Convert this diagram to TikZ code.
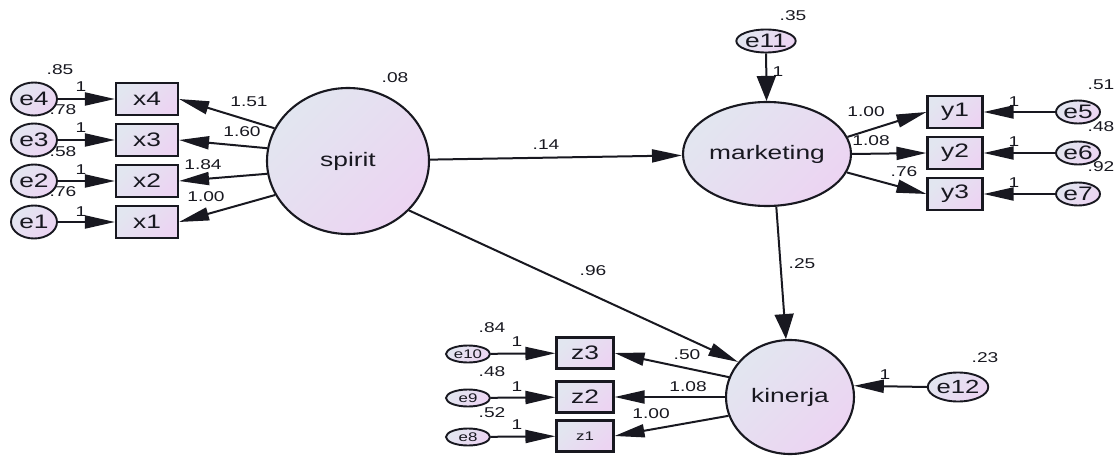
\documentclass[tikz,border=0pt]{standalone}
\usepackage{fontspec}
\setmainfont{Liberation Sans}[FakeStretch=1.35]
\usetikzlibrary{shapes.geometric,arrows.meta}
\definecolor{shtop}{RGB}{226,230,240}
\definecolor{shbot}{RGB}{236,212,242}
\definecolor{ink}{RGB}{24,24,32}
\tikzset{
  shadedfill/.style={top color=shtop,bottom color=shbot,shading angle=45},
  latent/.style={ellipse,draw=ink,line width=2.1pt,shadedfill,inner sep=0pt,
    font=\fontsize{19.5}{21}\selectfont,text=ink},
  obs/.style={rectangle,draw=ink,line width=2.1pt,shadedfill,inner sep=0pt,
    minimum width=62pt,minimum height=32pt,font=\fontsize{19.5}{21}\selectfont,text=ink},
  err/.style={ellipse,draw=ink,line width=1.9pt,shadedfill,inner sep=0pt,
    minimum width=46pt,minimum height=33pt,font=\fontsize{19.5}{21}\selectfont,text=ink},
  smallerr/.style={err,minimum width=44pt,minimum height=17pt,font=\fontsize{12.5}{13}\selectfont},
  lbl/.style={inner sep=0pt,font=\fontsize{14.2}{15}\selectfont,text=ink},
  conn/.style={draw=ink,line width=2pt,-{Triangle[length=30pt,width=13pt]}},
  vconn/.style={draw=ink,line width=2pt,-{Triangle[length=25pt,width=19pt]}}
}
\begin{document}
\begin{tikzpicture}[x=1pt,y=-1pt]
\useasboundingbox (0,0) rectangle (1118,457);

% latent variables
\node[latent,minimum width=162pt,minimum height=146pt] (spirit) at (348,161) {spirit};
\node[latent,minimum width=168pt,minimum height=104pt] (marketing) at (767,154) {marketing};
\node[latent,minimum width=128pt,minimum height=114pt] (kinerja) at (790,397) {kinerja};

% spirit indicators
\node[obs] (x4) at (147,99) {x4};
\node[obs] (x3) at (147,140) {x3};
\node[obs] (x2) at (147,181) {x2};
\node[obs] (x1) at (147,222) {x1};
\node[err] (e4) at (34,99) {e4};
\node[err] (e3) at (34,140) {e3};
\node[err] (e2) at (34,181) {e2};
\node[err] (e1) at (34,222) {e1};

% marketing indicators
\node[obs,minimum width=55pt] (y1) at (955,112) {y1};
\node[obs,minimum width=55pt] (y2) at (955,153) {y2};
\node[obs,minimum width=55pt] (y3) at (955,194) {y3};
\node[err,minimum width=44pt,minimum height=23pt] (e5) at (1078,112) {e5};
\node[err,minimum width=44pt,minimum height=23pt] (e6) at (1078,153) {e6};
\node[err,minimum width=44pt,minimum height=23pt] (e7) at (1078,194) {e7};
\node[err,minimum width=59pt,minimum height=23pt] (e11) at (766,41) {e11};

% kinerja indicators
\node[obs,minimum width=57pt,minimum height=31pt] (z3) at (585,353) {z3};
\node[obs,minimum width=57pt,minimum height=31pt] (z2) at (585,397) {z2};
\node[obs,minimum width=57pt,minimum height=31pt,font=\fontsize{12.5}{13}\selectfont] (z1) at (585,436) {z1};
\node[smallerr] (e10) at (468,354) {e10};
\node[smallerr] (e9) at (468,398) {e9};
\node[smallerr] (e8) at (468,437) {e8};
\node[err,minimum width=58pt,minimum height=29pt,font=\fontsize{19}{20}\selectfont] (e12) at (958,387) {e12};

% error paths
\draw[conn] (e4) -- (x4);
\draw[conn] (e3) -- (x3);
\draw[conn] (e2) -- (x2);
\draw[conn] (e1) -- (x1);
\draw[conn] (e5) -- (y1);
\draw[conn] (e6) -- (y2);
\draw[conn] (e7) -- (y3);
\draw[conn] (e10) -- (z3);
\draw[conn] (e9) -- (z2);
\draw[conn] (e8) -- (z1);
\draw[vconn] (e11) -- (marketing);
\draw[conn] (e12.west) -- (kinerja.10);

% loadings
\draw[conn] (spirit.156) -- (x4.east);
\draw[conn] (spirit.171) -- (x3.east);
\draw[conn] (spirit.189) -- (x2.east);
\draw[conn] (spirit.205) -- (x1.east);
\draw[conn] (marketing.12) -- (y1.west);
\draw[conn] (marketing.0) -- (y2.west);
\draw[conn] (marketing.347) -- (y3.west);
\draw[conn] (kinerja.162) -- (z3.east);
\draw[conn] (kinerja.180) -- (z2.east);
\draw[conn] (kinerja.197) -- (z1.east);

% structural paths
\draw[conn] (spirit) -- (marketing);
\draw[conn] (spirit.321) -- (kinerja.146);
\draw[vconn] (marketing.280) -- (kinerja.94);

% estimates
\node[lbl] (v08) at (395,78) {.08};
\node[lbl] (v85) at (60,70) {.85};
\node[lbl] (v78) at (63,110) {.78};
\node[lbl] (v58) at (63,152) {.58};
\node[lbl] (v76) at (63,192) {.76};
\node[lbl] (f4) at (81,87) {1};
\node[lbl] (f3) at (81,128) {1};
\node[lbl] (f2) at (81,170) {1};
\node[lbl] (f1) at (81,212) {1};
\node[lbl] (l151) at (249,102) {1.51};
\node[lbl] (l160) at (242,132) {1.60};
\node[lbl] (l184) at (203,165) {1.84};
\node[lbl] (l100) at (206,197) {1.00};
\node[lbl] (b14) at (546,145) {.14};
\node[lbl] (b96) at (593,271) {.96};
\node[lbl] (b25) at (802,264) {.25};
\node[lbl] (v35) at (793,16) {.35};
\node[lbl] (f11) at (778,72) {1};
\node[lbl] (m100) at (866,112) {1.00};
\node[lbl] (m108) at (871,141) {1.08};
\node[lbl] (m76) at (904,172) {.76};
\node[lbl] (f5) at (1014,102) {1};
\node[lbl] (f6) at (1014,142) {1};
\node[lbl] (f7) at (1014,183) {1};
\node[lbl] (v51) at (1101,85) {.51};
\node[lbl] (v48a) at (1101,127) {.48};
\node[lbl] (v92) at (1101,167) {.92};
\node[lbl] (v84) at (492,328) {.84};
\node[lbl] (v48b) at (492,372) {.48};
\node[lbl] (v52) at (492,413) {.52};
\node[lbl] (f10) at (517,342) {1};
\node[lbl] (f9) at (517,387) {1};
\node[lbl] (f8) at (517,425) {1};
\node[lbl] (k50) at (687,355) {.50};
\node[lbl] (k108) at (688,387) {1.08};
\node[lbl] (k100) at (651,414) {1.00};
\node[lbl] (v23) at (985,358) {.23};
\node[lbl] (f12) at (885,375) {1};
\end{tikzpicture}
\end{document}
